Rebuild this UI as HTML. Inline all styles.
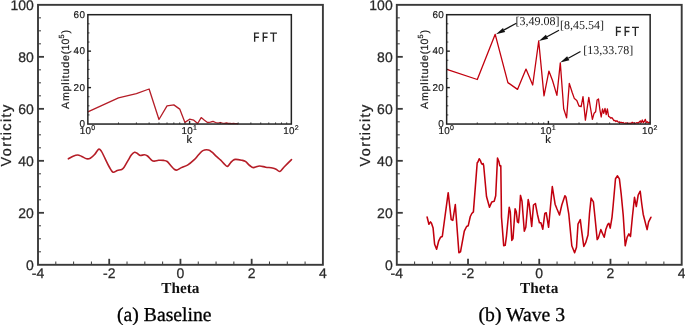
<!DOCTYPE html><html><head><meta charset="utf-8"><style>html,body{margin:0;padding:0;background:#fff;width:685px;height:325px;overflow:hidden}svg{display:block;will-change:transform;text-rendering:geometricPrecision}</style></head><body>
<svg width="685" height="325" viewBox="0 0 685 325">
<rect width="685" height="325" fill="#fff"/>
<line x1="38.0" y1="251.80" x2="41.0" y2="251.80" stroke="#3a3a3a" stroke-width="1.0"/>
<line x1="38.0" y1="238.81" x2="41.0" y2="238.81" stroke="#3a3a3a" stroke-width="1.0"/>
<line x1="38.0" y1="225.81" x2="41.0" y2="225.81" stroke="#3a3a3a" stroke-width="1.0"/>
<line x1="38.0" y1="212.81" x2="44.0" y2="212.81" stroke="#3a3a3a" stroke-width="1.8"/>
<line x1="38.0" y1="199.81" x2="41.0" y2="199.81" stroke="#3a3a3a" stroke-width="1.0"/>
<line x1="38.0" y1="186.81" x2="41.0" y2="186.81" stroke="#3a3a3a" stroke-width="1.0"/>
<line x1="38.0" y1="173.82" x2="41.0" y2="173.82" stroke="#3a3a3a" stroke-width="1.0"/>
<line x1="38.0" y1="160.82" x2="44.0" y2="160.82" stroke="#3a3a3a" stroke-width="1.8"/>
<line x1="38.0" y1="147.82" x2="41.0" y2="147.82" stroke="#3a3a3a" stroke-width="1.0"/>
<line x1="38.0" y1="134.83" x2="41.0" y2="134.83" stroke="#3a3a3a" stroke-width="1.0"/>
<line x1="38.0" y1="121.83" x2="41.0" y2="121.83" stroke="#3a3a3a" stroke-width="1.0"/>
<line x1="38.0" y1="108.83" x2="44.0" y2="108.83" stroke="#3a3a3a" stroke-width="1.8"/>
<line x1="38.0" y1="95.83" x2="41.0" y2="95.83" stroke="#3a3a3a" stroke-width="1.0"/>
<line x1="38.0" y1="82.84" x2="41.0" y2="82.84" stroke="#3a3a3a" stroke-width="1.0"/>
<line x1="38.0" y1="69.84" x2="41.0" y2="69.84" stroke="#3a3a3a" stroke-width="1.0"/>
<line x1="38.0" y1="56.84" x2="44.0" y2="56.84" stroke="#3a3a3a" stroke-width="1.8"/>
<line x1="38.0" y1="43.84" x2="41.0" y2="43.84" stroke="#3a3a3a" stroke-width="1.0"/>
<line x1="38.0" y1="30.84" x2="41.0" y2="30.84" stroke="#3a3a3a" stroke-width="1.0"/>
<line x1="38.0" y1="17.85" x2="41.0" y2="17.85" stroke="#3a3a3a" stroke-width="1.0"/>
<line x1="55.81" y1="264.8" x2="55.81" y2="261.5" stroke="#3a3a3a" stroke-width="1.0"/>
<line x1="73.61" y1="264.8" x2="73.61" y2="261.5" stroke="#3a3a3a" stroke-width="1.0"/>
<line x1="91.42" y1="264.8" x2="91.42" y2="261.5" stroke="#3a3a3a" stroke-width="1.0"/>
<line x1="109.22" y1="264.8" x2="109.22" y2="258.8" stroke="#3a3a3a" stroke-width="1.8"/>
<line x1="127.03" y1="264.8" x2="127.03" y2="261.5" stroke="#3a3a3a" stroke-width="1.0"/>
<line x1="144.84" y1="264.8" x2="144.84" y2="261.5" stroke="#3a3a3a" stroke-width="1.0"/>
<line x1="162.64" y1="264.8" x2="162.64" y2="261.5" stroke="#3a3a3a" stroke-width="1.0"/>
<line x1="180.45" y1="264.8" x2="180.45" y2="258.8" stroke="#3a3a3a" stroke-width="1.8"/>
<line x1="198.26" y1="264.8" x2="198.26" y2="261.5" stroke="#3a3a3a" stroke-width="1.0"/>
<line x1="216.06" y1="264.8" x2="216.06" y2="261.5" stroke="#3a3a3a" stroke-width="1.0"/>
<line x1="233.87" y1="264.8" x2="233.87" y2="261.5" stroke="#3a3a3a" stroke-width="1.0"/>
<line x1="251.67" y1="264.8" x2="251.67" y2="258.8" stroke="#3a3a3a" stroke-width="1.8"/>
<line x1="269.48" y1="264.8" x2="269.48" y2="261.5" stroke="#3a3a3a" stroke-width="1.0"/>
<line x1="287.29" y1="264.8" x2="287.29" y2="261.5" stroke="#3a3a3a" stroke-width="1.0"/>
<line x1="305.09" y1="264.8" x2="305.09" y2="261.5" stroke="#3a3a3a" stroke-width="1.0"/>
<rect x="38.0" y="4.85" width="284.9" height="259.95" fill="none" stroke="#3a3a3a" stroke-width="1.9"/>
<text x="33.9" y="269.90" text-anchor="end" class="tl">0</text>
<text x="33.9" y="217.91" text-anchor="end" class="tl">20</text>
<text x="33.9" y="165.92" text-anchor="end" class="tl">40</text>
<text x="33.9" y="113.93" text-anchor="end" class="tl">60</text>
<text x="33.9" y="61.94" text-anchor="end" class="tl">80</text>
<text x="33.9" y="9.95" text-anchor="end" class="tl">100</text>
<text x="38.00" y="278.2" text-anchor="middle" class="tl">-4</text>
<text x="109.22" y="278.2" text-anchor="middle" class="tl">-2</text>
<text x="180.45" y="278.2" text-anchor="middle" class="tl">0</text>
<text x="251.67" y="278.2" text-anchor="middle" class="tl">2</text>
<text x="322.90" y="278.2" text-anchor="middle" class="tl">4</text>
<text x="180.4" y="292.5" text-anchor="middle" class="th">Theta</text>
<text transform="translate(10.9,166.4) rotate(-90)" class="vl">Vorticity</text>
<path d="M68.40,158.80 C69.18,158.37 71.55,156.83 73.10,156.20 C74.65,155.57 76.27,154.97 77.70,155.00 C79.13,155.03 80.22,155.78 81.70,156.40 C83.18,157.02 85.17,158.40 86.60,158.70 C88.03,159.00 88.97,158.90 90.30,158.20 C91.63,157.50 93.22,156.00 94.60,154.50 C95.98,153.00 97.48,149.77 98.60,149.20 C99.72,148.63 100.23,149.57 101.30,151.10 C102.37,152.63 103.67,155.75 105.00,158.40 C106.33,161.05 107.97,164.70 109.30,167.00 C110.63,169.30 111.67,171.62 113.00,172.20 C114.33,172.78 115.85,170.95 117.30,170.50 C118.75,170.05 120.57,170.03 121.70,169.50 C122.83,168.97 123.08,168.73 124.10,167.30 C125.12,165.87 126.57,162.98 127.80,160.90 C129.03,158.82 130.37,156.23 131.50,154.80 C132.63,153.37 133.67,152.55 134.60,152.30 C135.53,152.05 136.18,152.78 137.10,153.30 C138.02,153.82 138.88,155.15 140.10,155.40 C141.32,155.65 143.17,154.70 144.40,154.80 C145.63,154.90 146.27,155.08 147.50,156.00 C148.73,156.92 150.67,159.45 151.80,160.30 C152.93,161.15 153.17,161.10 154.30,161.10 C155.43,161.10 157.07,160.42 158.60,160.30 C160.13,160.18 162.07,160.20 163.50,160.40 C164.93,160.60 165.97,160.60 167.20,161.50 C168.43,162.40 169.67,164.47 170.90,165.80 C172.13,167.13 173.57,168.80 174.60,169.50 C175.63,170.20 175.97,170.32 177.10,170.00 C178.23,169.68 179.67,168.42 181.40,167.60 C183.13,166.78 185.35,166.43 187.50,165.10 C189.65,163.77 192.45,161.33 194.30,159.60 C196.15,157.87 197.17,156.20 198.60,154.70 C200.03,153.20 201.27,151.38 202.90,150.60 C204.53,149.82 206.87,149.73 208.40,150.00 C209.93,150.27 210.87,151.22 212.10,152.20 C213.33,153.18 214.37,154.57 215.80,155.90 C217.23,157.23 219.27,158.83 220.70,160.20 C222.13,161.57 223.27,163.07 224.40,164.10 C225.53,165.13 226.47,166.63 227.50,166.40 C228.53,166.17 229.77,163.63 230.60,162.70 C231.43,161.77 231.68,161.35 232.50,160.80 C233.32,160.25 233.97,159.50 235.50,159.40 C237.03,159.30 240.05,159.87 241.70,160.20 C243.35,160.53 244.07,160.52 245.40,161.40 C246.73,162.28 248.37,164.47 249.70,165.50 C251.03,166.53 251.77,167.52 253.40,167.60 C255.03,167.68 257.45,166.07 259.50,166.00 C261.55,165.93 263.55,166.87 265.70,167.20 C267.85,167.53 270.67,167.67 272.40,168.00 C274.13,168.33 274.87,168.62 276.10,169.20 C277.33,169.78 278.47,171.87 279.80,171.50 C281.13,171.13 282.15,168.98 284.10,167.00 C286.05,165.02 290.27,160.83 291.50,159.60" fill="none" stroke="#b51d27" stroke-width="1.6" stroke-linejoin="round" stroke-linecap="round"/>
<rect x="87.85" y="14.7" width="203.50000000000003" height="109.35" fill="#fff"/>
<polyline points="87.85,111.90 118.48,97.90 136.40,93.60 149.11,89.00 158.97,119.50 167.03,105.90 173.84,104.90 179.74,109.10 184.94,122.40 189.60,119.20 193.81,120.20 197.66,123.50 201.19,117.60 204.47,120.30 207.52,122.50 210.37,122.20 213.05,121.40 215.57,122.50 217.96,123.20 220.23,122.50 222.39,123.20 224.44,123.40 226.41,123.00 228.29,123.50 230.09,123.30 231.82,123.60 233.49,123.40 235.10,123.70 236.65,123.60 238.15,123.80" fill="none" stroke="#b51d27" stroke-width="1.3" stroke-linejoin="round"/>
<line x1="87.85" y1="114.94" x2="89.55" y2="114.94" stroke="#222" stroke-width="0.8"/>
<line x1="87.85" y1="105.82" x2="89.55" y2="105.82" stroke="#222" stroke-width="0.8"/>
<line x1="87.85" y1="96.71" x2="89.55" y2="96.71" stroke="#222" stroke-width="0.8"/>
<line x1="87.85" y1="87.60" x2="91.05" y2="87.60" stroke="#222" stroke-width="1.4"/>
<line x1="87.85" y1="78.49" x2="89.55" y2="78.49" stroke="#222" stroke-width="0.8"/>
<line x1="87.85" y1="69.38" x2="89.55" y2="69.38" stroke="#222" stroke-width="0.8"/>
<line x1="87.85" y1="60.26" x2="89.55" y2="60.26" stroke="#222" stroke-width="0.8"/>
<line x1="87.85" y1="51.15" x2="91.05" y2="51.15" stroke="#222" stroke-width="1.4"/>
<line x1="87.85" y1="42.04" x2="89.55" y2="42.04" stroke="#222" stroke-width="0.8"/>
<line x1="87.85" y1="32.92" x2="89.55" y2="32.92" stroke="#222" stroke-width="0.8"/>
<line x1="87.85" y1="23.81" x2="89.55" y2="23.81" stroke="#222" stroke-width="0.8"/>
<line x1="118.48" y1="124.05" x2="118.48" y2="122.35" stroke="#222" stroke-width="0.8"/>
<line x1="136.40" y1="124.05" x2="136.40" y2="122.35" stroke="#222" stroke-width="0.8"/>
<line x1="149.11" y1="124.05" x2="149.11" y2="122.35" stroke="#222" stroke-width="0.8"/>
<line x1="158.97" y1="124.05" x2="158.97" y2="122.35" stroke="#222" stroke-width="0.8"/>
<line x1="167.03" y1="124.05" x2="167.03" y2="122.35" stroke="#222" stroke-width="0.8"/>
<line x1="173.84" y1="124.05" x2="173.84" y2="122.35" stroke="#222" stroke-width="0.8"/>
<line x1="179.74" y1="124.05" x2="179.74" y2="122.35" stroke="#222" stroke-width="0.8"/>
<line x1="184.94" y1="124.05" x2="184.94" y2="122.35" stroke="#222" stroke-width="0.8"/>
<line x1="189.60" y1="124.05" x2="189.60" y2="120.85" stroke="#222" stroke-width="1.4"/>
<line x1="220.23" y1="124.05" x2="220.23" y2="122.35" stroke="#222" stroke-width="0.8"/>
<line x1="238.15" y1="124.05" x2="238.15" y2="122.35" stroke="#222" stroke-width="0.8"/>
<line x1="250.86" y1="124.05" x2="250.86" y2="122.35" stroke="#222" stroke-width="0.8"/>
<line x1="260.72" y1="124.05" x2="260.72" y2="122.35" stroke="#222" stroke-width="0.8"/>
<line x1="268.78" y1="124.05" x2="268.78" y2="122.35" stroke="#222" stroke-width="0.8"/>
<line x1="275.59" y1="124.05" x2="275.59" y2="122.35" stroke="#222" stroke-width="0.8"/>
<line x1="281.49" y1="124.05" x2="281.49" y2="122.35" stroke="#222" stroke-width="0.8"/>
<line x1="286.69" y1="124.05" x2="286.69" y2="122.35" stroke="#222" stroke-width="0.8"/>
<rect x="87.85" y="14.7" width="203.50000000000003" height="109.35" fill="none" stroke="#222" stroke-width="1.5"/>
<text x="85.2" y="127.25" text-anchor="end" class="il">0</text>
<text x="85.2" y="90.80" text-anchor="end" class="il">20</text>
<text x="85.2" y="54.35" text-anchor="end" class="il">40</text>
<text x="85.2" y="17.90" text-anchor="end" class="il">60</text>
<text x="87.55" y="134.2" text-anchor="middle" class="il">10<tspan class="sup" dy="-4.6">0</tspan></text>
<text x="189.30" y="134.2" text-anchor="middle" class="il">10<tspan class="sup" dy="-4.6">1</tspan></text>
<text x="291.05" y="134.2" text-anchor="middle" class="il">10<tspan class="sup" dy="-4.6">2</tspan></text>
<text x="189.3" y="143.4" text-anchor="middle" class="kl">k</text>
<text transform="translate(69.0,109.0) rotate(-90)" class="al"><tspan style="letter-spacing:0.85px">Amplitude</tspan><tspan style="letter-spacing:0.15px">(10</tspan><tspan class="sup2" dy="-4.6">5</tspan><tspan dy="4.6" style="letter-spacing:0">)</tspan></text>
<path d="M254.65,41.85V32.40 M253.90,33.15H259.10 M254.65,37.25H258.90 M263.30,41.85V32.40 M262.55,33.15H267.70 M263.30,37.25H267.50 M270.10,33.15H277.00 M273.45,33.15V41.85" fill="none" stroke="#262626" stroke-width="1.35"/>
<text x="117.0" y="320.5" class="cap">(a) Baseline</text>
<line x1="396.8" y1="251.80" x2="399.8" y2="251.80" stroke="#3a3a3a" stroke-width="1.0"/>
<line x1="396.8" y1="238.81" x2="399.8" y2="238.81" stroke="#3a3a3a" stroke-width="1.0"/>
<line x1="396.8" y1="225.81" x2="399.8" y2="225.81" stroke="#3a3a3a" stroke-width="1.0"/>
<line x1="396.8" y1="212.81" x2="402.8" y2="212.81" stroke="#3a3a3a" stroke-width="1.8"/>
<line x1="396.8" y1="199.81" x2="399.8" y2="199.81" stroke="#3a3a3a" stroke-width="1.0"/>
<line x1="396.8" y1="186.81" x2="399.8" y2="186.81" stroke="#3a3a3a" stroke-width="1.0"/>
<line x1="396.8" y1="173.82" x2="399.8" y2="173.82" stroke="#3a3a3a" stroke-width="1.0"/>
<line x1="396.8" y1="160.82" x2="402.8" y2="160.82" stroke="#3a3a3a" stroke-width="1.8"/>
<line x1="396.8" y1="147.82" x2="399.8" y2="147.82" stroke="#3a3a3a" stroke-width="1.0"/>
<line x1="396.8" y1="134.83" x2="399.8" y2="134.83" stroke="#3a3a3a" stroke-width="1.0"/>
<line x1="396.8" y1="121.83" x2="399.8" y2="121.83" stroke="#3a3a3a" stroke-width="1.0"/>
<line x1="396.8" y1="108.83" x2="402.8" y2="108.83" stroke="#3a3a3a" stroke-width="1.8"/>
<line x1="396.8" y1="95.83" x2="399.8" y2="95.83" stroke="#3a3a3a" stroke-width="1.0"/>
<line x1="396.8" y1="82.84" x2="399.8" y2="82.84" stroke="#3a3a3a" stroke-width="1.0"/>
<line x1="396.8" y1="69.84" x2="399.8" y2="69.84" stroke="#3a3a3a" stroke-width="1.0"/>
<line x1="396.8" y1="56.84" x2="402.8" y2="56.84" stroke="#3a3a3a" stroke-width="1.8"/>
<line x1="396.8" y1="43.84" x2="399.8" y2="43.84" stroke="#3a3a3a" stroke-width="1.0"/>
<line x1="396.8" y1="30.84" x2="399.8" y2="30.84" stroke="#3a3a3a" stroke-width="1.0"/>
<line x1="396.8" y1="17.85" x2="399.8" y2="17.85" stroke="#3a3a3a" stroke-width="1.0"/>
<line x1="414.61" y1="264.8" x2="414.61" y2="261.5" stroke="#3a3a3a" stroke-width="1.0"/>
<line x1="432.41" y1="264.8" x2="432.41" y2="261.5" stroke="#3a3a3a" stroke-width="1.0"/>
<line x1="450.22" y1="264.8" x2="450.22" y2="261.5" stroke="#3a3a3a" stroke-width="1.0"/>
<line x1="468.02" y1="264.8" x2="468.02" y2="258.8" stroke="#3a3a3a" stroke-width="1.8"/>
<line x1="485.83" y1="264.8" x2="485.83" y2="261.5" stroke="#3a3a3a" stroke-width="1.0"/>
<line x1="503.64" y1="264.8" x2="503.64" y2="261.5" stroke="#3a3a3a" stroke-width="1.0"/>
<line x1="521.44" y1="264.8" x2="521.44" y2="261.5" stroke="#3a3a3a" stroke-width="1.0"/>
<line x1="539.25" y1="264.8" x2="539.25" y2="258.8" stroke="#3a3a3a" stroke-width="1.8"/>
<line x1="557.06" y1="264.8" x2="557.06" y2="261.5" stroke="#3a3a3a" stroke-width="1.0"/>
<line x1="574.86" y1="264.8" x2="574.86" y2="261.5" stroke="#3a3a3a" stroke-width="1.0"/>
<line x1="592.67" y1="264.8" x2="592.67" y2="261.5" stroke="#3a3a3a" stroke-width="1.0"/>
<line x1="610.48" y1="264.8" x2="610.48" y2="258.8" stroke="#3a3a3a" stroke-width="1.8"/>
<line x1="628.28" y1="264.8" x2="628.28" y2="261.5" stroke="#3a3a3a" stroke-width="1.0"/>
<line x1="646.09" y1="264.8" x2="646.09" y2="261.5" stroke="#3a3a3a" stroke-width="1.0"/>
<line x1="663.89" y1="264.8" x2="663.89" y2="261.5" stroke="#3a3a3a" stroke-width="1.0"/>
<rect x="396.8" y="4.85" width="284.9" height="259.95" fill="none" stroke="#3a3a3a" stroke-width="1.9"/>
<text x="392.7" y="269.90" text-anchor="end" class="tl">0</text>
<text x="392.7" y="217.91" text-anchor="end" class="tl">20</text>
<text x="392.7" y="165.92" text-anchor="end" class="tl">40</text>
<text x="392.7" y="113.93" text-anchor="end" class="tl">60</text>
<text x="392.7" y="61.94" text-anchor="end" class="tl">80</text>
<text x="392.7" y="9.95" text-anchor="end" class="tl">100</text>
<text x="396.80" y="278.2" text-anchor="middle" class="tl">-4</text>
<text x="468.02" y="278.2" text-anchor="middle" class="tl">-2</text>
<text x="539.25" y="278.2" text-anchor="middle" class="tl">0</text>
<text x="610.48" y="278.2" text-anchor="middle" class="tl">2</text>
<text x="681.70" y="278.2" text-anchor="middle" class="tl">4</text>
<text x="539.2" y="292.5" text-anchor="middle" class="th">Theta</text>
<text transform="translate(369.7,166.4) rotate(-90)" class="vl">Vorticity</text>
<polyline points="427.10,217.00 428.90,224.20 430.50,221.90 431.50,223.20 433.10,228.10 434.60,244.20 436.60,249.30 438.60,241.20 440.50,237.30 442.30,236.50 448.20,192.70 451.20,219.60 452.80,220.40 455.30,204.50 458.90,252.70 460.50,251.90 464.30,231.20 466.60,226.50 468.20,225.80 470.30,216.50 471.80,213.50 473.40,211.90 477.20,162.70 478.00,161.90 479.20,158.80 480.30,160.40 481.50,163.50 482.20,164.20 483.10,163.50 483.70,165.80 486.50,196.50 489.50,207.30 491.80,201.90 494.20,201.20 495.70,195.80 497.50,158.10 498.80,161.20 499.80,165.80 500.80,165.80 501.50,217.30 503.70,245.80 505.20,245.30 506.50,235.80 509.20,207.30 510.30,211.90 511.80,240.40 513.00,238.50 515.10,208.80 516.30,211.90 517.40,221.90 518.50,222.70 519.40,213.50 520.50,195.40 522.00,201.20 524.30,231.20 525.80,227.30 528.20,199.60 529.20,204.20 531.70,226.50 533.50,205.00 535.40,203.50 537.40,214.20 539.40,222.70 540.90,222.70 542.80,229.20 544.80,213.50 546.20,212.70 548.60,227.30 552.30,186.50 555.10,204.20 556.90,208.80 559.50,215.00 561.80,205.00 564.90,195.80 566.00,197.30 568.80,214.20 571.80,245.80 574.60,252.70 576.50,247.30 578.00,224.20 580.30,219.60 581.80,231.90 583.80,246.50 585.70,242.70 588.00,235.00 589.50,213.50 591.10,198.10 593.40,201.90 594.90,216.50 597.20,239.60 598.30,238.10 600.80,229.60 604.20,237.30 605.80,229.60 607.80,224.20 608.90,223.20 610.20,228.10 612.00,217.30 613.20,205.00 615.50,178.80 617.50,175.80 619.40,178.80 621.20,194.20 623.20,215.00 625.20,245.80 627.10,237.30 628.90,233.90 630.50,236.50 632.50,215.80 634.50,197.30 636.30,206.50 638.20,195.00 640.20,191.20 641.70,203.50 643.20,214.20 647.10,229.60 648.60,221.90 650.90,217.30" fill="none" stroke="#c2000e" stroke-width="1.55" stroke-linejoin="round" stroke-linecap="round"/>
<rect x="446.65" y="14.7" width="203.50000000000003" height="109.35" fill="#fff"/>
<polyline points="446.80,69.30 477.30,79.50 495.20,34.30 507.90,82.60 517.50,89.40 526.00,69.10 532.70,85.00 538.70,41.00 544.00,95.90 548.90,71.10 552.60,80.80 556.90,95.40 560.30,62.80 563.70,108.70 566.60,117.90 569.30,83.40 572.20,92.50 574.40,98.60 576.80,100.50 579.00,106.00 581.20,106.50 583.00,96.60 585.40,120.10 587.20,108.00 588.80,97.30 590.50,108.00 592.40,119.40 594.10,113.20 595.60,111.80 597.10,100.00 598.50,99.00 599.90,109.60 601.20,117.00 602.50,109.00 603.70,113.30 605.00,108.40 606.20,114.50 607.40,109.00 608.60,116.40 609.70,117.00 610.80,118.20 611.90,117.60 612.90,119.00 613.90,120.70 614.90,120.50 615.90,121.50 616.90,120.80 617.80,121.80 618.70,122.30 619.60,121.90 620.50,122.60 621.40,122.30 622.30,122.90 623.10,122.50 624.00,123.20 625.00,123.30 626.00,122.80 627.00,123.40 628.00,123.10 629.00,123.50 630.00,123.10 631.00,123.60 632.10,122.30 633.00,123.20 634.00,122.80 635.00,123.50 636.00,123.00 637.00,122.60 638.00,123.30 639.00,122.20 640.30,121.00 641.30,122.40 642.30,120.00 643.30,122.60 644.30,121.50 645.30,119.40 646.30,122.50 647.30,121.80 648.30,122.90 649.30,122.20 650.10,122.80" fill="none" stroke="#c2000e" stroke-width="1.3" stroke-linejoin="round"/>
<line x1="446.65" y1="114.94" x2="448.34999999999997" y2="114.94" stroke="#222" stroke-width="0.8"/>
<line x1="446.65" y1="105.82" x2="448.34999999999997" y2="105.82" stroke="#222" stroke-width="0.8"/>
<line x1="446.65" y1="96.71" x2="448.34999999999997" y2="96.71" stroke="#222" stroke-width="0.8"/>
<line x1="446.65" y1="87.60" x2="449.84999999999997" y2="87.60" stroke="#222" stroke-width="1.4"/>
<line x1="446.65" y1="78.49" x2="448.34999999999997" y2="78.49" stroke="#222" stroke-width="0.8"/>
<line x1="446.65" y1="69.38" x2="448.34999999999997" y2="69.38" stroke="#222" stroke-width="0.8"/>
<line x1="446.65" y1="60.26" x2="448.34999999999997" y2="60.26" stroke="#222" stroke-width="0.8"/>
<line x1="446.65" y1="51.15" x2="449.84999999999997" y2="51.15" stroke="#222" stroke-width="1.4"/>
<line x1="446.65" y1="42.04" x2="448.34999999999997" y2="42.04" stroke="#222" stroke-width="0.8"/>
<line x1="446.65" y1="32.92" x2="448.34999999999997" y2="32.92" stroke="#222" stroke-width="0.8"/>
<line x1="446.65" y1="23.81" x2="448.34999999999997" y2="23.81" stroke="#222" stroke-width="0.8"/>
<line x1="477.28" y1="124.05" x2="477.28" y2="122.35" stroke="#222" stroke-width="0.8"/>
<line x1="495.20" y1="124.05" x2="495.20" y2="122.35" stroke="#222" stroke-width="0.8"/>
<line x1="507.91" y1="124.05" x2="507.91" y2="122.35" stroke="#222" stroke-width="0.8"/>
<line x1="517.77" y1="124.05" x2="517.77" y2="122.35" stroke="#222" stroke-width="0.8"/>
<line x1="525.83" y1="124.05" x2="525.83" y2="122.35" stroke="#222" stroke-width="0.8"/>
<line x1="532.64" y1="124.05" x2="532.64" y2="122.35" stroke="#222" stroke-width="0.8"/>
<line x1="538.54" y1="124.05" x2="538.54" y2="122.35" stroke="#222" stroke-width="0.8"/>
<line x1="543.74" y1="124.05" x2="543.74" y2="122.35" stroke="#222" stroke-width="0.8"/>
<line x1="548.40" y1="124.05" x2="548.40" y2="120.85" stroke="#222" stroke-width="1.4"/>
<line x1="579.03" y1="124.05" x2="579.03" y2="122.35" stroke="#222" stroke-width="0.8"/>
<line x1="596.95" y1="124.05" x2="596.95" y2="122.35" stroke="#222" stroke-width="0.8"/>
<line x1="609.66" y1="124.05" x2="609.66" y2="122.35" stroke="#222" stroke-width="0.8"/>
<line x1="619.52" y1="124.05" x2="619.52" y2="122.35" stroke="#222" stroke-width="0.8"/>
<line x1="627.58" y1="124.05" x2="627.58" y2="122.35" stroke="#222" stroke-width="0.8"/>
<line x1="634.39" y1="124.05" x2="634.39" y2="122.35" stroke="#222" stroke-width="0.8"/>
<line x1="640.29" y1="124.05" x2="640.29" y2="122.35" stroke="#222" stroke-width="0.8"/>
<line x1="645.49" y1="124.05" x2="645.49" y2="122.35" stroke="#222" stroke-width="0.8"/>
<rect x="446.65" y="14.7" width="203.50000000000003" height="109.35" fill="none" stroke="#222" stroke-width="1.5"/>
<text x="444.0" y="127.25" text-anchor="end" class="il">0</text>
<text x="444.0" y="90.80" text-anchor="end" class="il">20</text>
<text x="444.0" y="54.35" text-anchor="end" class="il">40</text>
<text x="444.0" y="17.90" text-anchor="end" class="il">60</text>
<text x="446.35" y="134.2" text-anchor="middle" class="il">10<tspan class="sup" dy="-4.6">0</tspan></text>
<text x="548.10" y="134.2" text-anchor="middle" class="il">10<tspan class="sup" dy="-4.6">1</tspan></text>
<text x="649.85" y="134.2" text-anchor="middle" class="il">10<tspan class="sup" dy="-4.6">2</tspan></text>
<text x="548.1" y="143.4" text-anchor="middle" class="kl">k</text>
<text transform="translate(427.8,109.0) rotate(-90)" class="al"><tspan style="letter-spacing:0.85px">Amplitude</tspan><tspan style="letter-spacing:0.15px">(10</tspan><tspan class="sup2" dy="-4.6">5</tspan><tspan dy="4.6" style="letter-spacing:0">)</tspan></text>
<path d="M616.55,36.05V26.60 M615.80,27.35H621.00 M616.55,31.45H620.80 M625.20,36.05V26.60 M624.45,27.35H629.60 M625.20,31.45H629.40 M632.00,27.35H638.90 M635.35,27.35V36.05" fill="none" stroke="#262626" stroke-width="1.35"/>
<text x="478.5" y="320.5" class="cap">(b) Wave 3</text>
<line x1="516.4" y1="23.2" x2="504.08" y2="29.90" stroke="#111" stroke-width="1.25"/><polygon points="496.0,34.3 502.98,27.88 505.18,31.92" fill="#111"/>
<line x1="559.0" y1="30.3" x2="547.02" y2="36.68" stroke="#111" stroke-width="1.25"/><polygon points="538.9,41.0 545.94,34.65 548.10,38.71" fill="#111"/>
<line x1="580.5" y1="51.5" x2="568.27" y2="58.19" stroke="#111" stroke-width="1.25"/><polygon points="560.2,62.6 567.17,56.17 569.38,60.20" fill="#111"/>
<text x="515.6" y="25.0" class="ann">[3,49.08]</text>
<text x="560.0" y="29.3" class="ann">[8,45.54]</text>
<text x="583.3" y="54.2" class="ann">[13,33.78]</text>
<style>
.tl{font-family:"Liberation Sans",sans-serif;font-size:14px;fill:#2a2a2a;stroke:#2a2a2a;stroke-width:0.25px}
.th{font-family:"Liberation Serif",serif;font-weight:bold;font-size:15.3px;fill:#111}
.vl{font-family:"Liberation Sans",sans-serif;font-size:14.5px;letter-spacing:1.35px;fill:#1e1e1e;stroke:#1e1e1e;stroke-width:0.25px}
.il{font-family:"Liberation Sans",sans-serif;font-size:9.9px;letter-spacing:0.3px;fill:#1a1a1a;stroke:#1a1a1a;stroke-width:0.2px}
.sup{font-size:7px}
.sup2{font-size:7.4px}
.kl{font-family:"Liberation Sans",sans-serif;font-size:11px;fill:#1a1a1a;stroke:#1a1a1a;stroke-width:0.2px}
.al{font-family:"Liberation Sans",sans-serif;font-size:10.6px;letter-spacing:0.75px;fill:#1a1a1a;stroke:#1a1a1a;stroke-width:0.2px}
.fft{font-family:"Liberation Sans",sans-serif;font-size:13.5px;letter-spacing:0.3px;fill:#222}
.cap{font-family:"Liberation Serif",serif;font-size:19.7px;fill:#000;stroke:#000;stroke-width:0.3px}
.ann{font-family:"Liberation Serif",serif;font-size:12px;fill:#1a1a1a}
</style>
</svg></body></html>
